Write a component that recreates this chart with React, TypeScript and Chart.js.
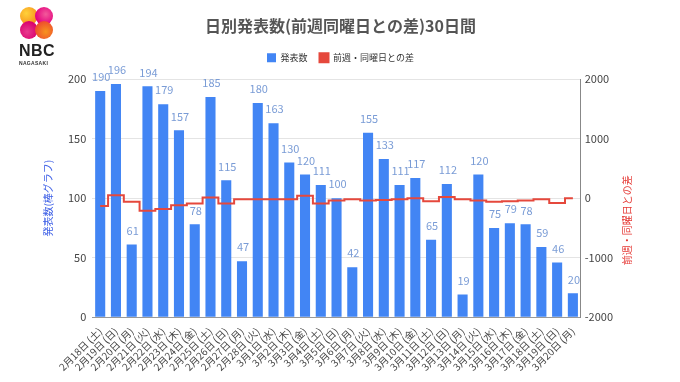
import React, { useEffect, useRef } from "react";
import { Chart, registerables } from "chart.js";

Chart.register(...registerables);

const labels = [
  "2月18日 (土)", "2月19日 (日)", "2月20日 (月)", "2月21日 (火)", "2月22日 (水)",
  "2月23日 (木)", "2月24日 (金)", "2月25日 (土)", "2月26日 (日)", "2月27日 (月)",
  "2月28日 (火)", "3月1日 (水)", "3月2日 (木)", "3月3日 (金)", "3月4日 (土)",
  "3月5日 (日)", "3月6日 (月)", "3月7日 (火)", "3月8日 (水)", "3月9日 (木)",
  "3月10日 (金)", "3月11日 (土)", "3月12日 (日)", "3月13日 (月)", "3月14日 (火)",
  "3月15日 (水)", "3月16日 (木)", "3月17日 (金)", "3月18日 (土)", "3月19日 (日)",
  "3月20日 (月)",
];

const counts = [
  190, 196, 61, 194, 179, 157, 78, 185, 115, 47, 180, 163, 130, 120, 111, 100,
  42, 155, 133, 111, 117, 65, 112, 19, 120, 75, 79, 78, 59, 46, 20,
];

const diffs = [
  -130, 50, -60, -210, -180, -120, -90, 10, -90, -20, -20, -20, -20, 40, -90,
  -40, -20, -40, -30, -20, 0, -50, 20, -20, -40, -60, -50, -40, -20, -80, 0,
];

const leftTicks = [0, 50, 100, 150, 200];
const rightTicks = [-2000, -1000, 0, 1000, 2000];
const rightTitle = "前週・同曜日との差";

const FONT = "'Noto Sans CJK JP', Roboto, 'Noto Sans', sans-serif";

const valueLabels = {
  id: "valueLabels",
  afterDatasetsDraw(chart: any) {
    const meta = chart.getDatasetMeta(0);
    const ctx = chart.ctx;
    ctx.save();
    ctx.font = `11px ${FONT}`;
    ctx.fillStyle = "#7a9cd6";
    ctx.textAlign = "center";
    ctx.textBaseline = "middle";
    meta.data.forEach((el: any, i: number) => {
      ctx.fillText(String(counts[i]), el.x + 1, el.y - 14);
    });
    ctx.restore();
  },
};

const rightTitlePlugin = {
  id: "rightTitle",
  afterDraw(chart: any) {
    const ctx = chart.ctx;
    const scale = chart.scales.y1;
    const x = scale.right + 10;
    const y = (chart.chartArea.top + chart.chartArea.bottom) / 2 + 22;
    ctx.save();
    ctx.translate(x, y);
    ctx.rotate(-Math.PI / 2);
    ctx.font = `10px ${FONT}`;
    ctx.fillStyle = "#e53935";
    ctx.textAlign = "center";
    ctx.textBaseline = "middle";
    ctx.fillText(rightTitle, 0, 0);
    ctx.restore();
  },
};

const legendMargin = {
  id: "legendMargin",
  beforeInit(chart: any) {
    const orig = chart.legend.fit;
    chart.legend.fit = function () {
      orig.bind(this)();
      this.height += 7;
    };
  },
  afterLayout(chart: any) {
    const shift = 11;
    if (chart.legend) {
      chart.legend.left += shift;
      chart.legend.right += shift;
      if (chart.legend.legendHitBoxes) {
        chart.legend.legendHitBoxes.forEach((b: any) => (b.left += shift));
      }
    }
    if (chart.titleBlock) {
      chart.titleBlock.left += shift;
      chart.titleBlock.right += shift;
    }
  },
};

export default function App() {
  const ref = useRef<HTMLCanvasElement>(null);

  useEffect(() => {
    document.body.style.margin = "0";
    const chart = new Chart(ref.current as HTMLCanvasElement, {
      type: "bar",
      data: {
        labels,
        datasets: [
          {
            type: "bar",
            label: "発表数",
            data: counts,
            yAxisID: "y",
            backgroundColor: "#4285f4",
            barPercentage: 0.64,
            categoryPercentage: 1,
            order: 1,
          } as any,
          {
            type: "line",
            label: rightTitle,
            data: diffs,
            yAxisID: "y1",
            borderColor: "#e5483c",
            backgroundColor: "#e5483c",
            borderWidth: 2,
            pointRadius: 0,
            stepped: "middle",
            order: 0,
          } as any,
        ],
      },
      options: {
        responsive: false,
        animation: false,
        layout: { padding: { left: 42, right: 63, top: 12, bottom: 9 } },
        plugins: {
          title: {
            display: true,
            text: "日別発表数(前週同曜日との差)30日間",
            color: "#555",
            font: { family: FONT, size: 16, weight: "bold" },
            padding: { top: 4, bottom: 6 },
          },
          legend: {
            display: true,
            labels: {
              boxWidth: 9,
              boxHeight: 9,
              color: "#333",
              font: { family: FONT, size: 9 },
              padding: 12,
              sort: (a: any, b: any) => a.datasetIndex - b.datasetIndex,
            },
          },
          tooltip: { enabled: false },
        },
        scales: {
          x: {
            grid: { display: false },
            border: { color: "#999" },
            ticks: {
              maxRotation: 45,
              minRotation: 45,
              autoSkip: false,
              color: "#444",
              font: { family: FONT, size: 10 },
              padding: 0,
            },
          },
          y: {
            position: "left",
            min: 0,
            max: 200,
            afterBuildTicks: (axis: any) => {
              axis.ticks = leftTicks.map((v) => ({ value: v }));
            },
            grid: { color: "#e4e4e4", drawTicks: false },
            border: { display: false },
            ticks: { color: "#444", font: { family: FONT, size: 11 }, padding: 6 },
            title: {
              display: true,
              text: "発表数(棒グラフ)",
              color: "#3d5fe6",
              font: { family: FONT, size: 10 },
              padding: { top: 0, bottom: 8 },
            },
          },
          y1: {
            position: "right",
            min: -2000,
            max: 2000,
            afterBuildTicks: (axis: any) => {
              axis.ticks = rightTicks.map((v) => ({ value: v }));
            },
            grid: { drawOnChartArea: false, drawTicks: false },
            border: { display: true, color: "#888" },
            ticks: {
              color: "#444",
              font: { family: FONT, size: 11 },
              padding: 4,
              callback: (v: any) => String(v),
            },
          },
        },
      } as any,
      plugins: [valueLabels, legendMargin, rightTitlePlugin],
    });
    return () => chart.destroy();
  }, []);

  const circle = (left: number, top: number, bg: string) => (
    <div
      style={{
        position: "absolute",
        left,
        top,
        width: 18,
        height: 18,
        borderRadius: "50%",
        background: bg,
      }}
    />
  );

  return (
    <div style={{ position: "relative", width: 680, height: 382, background: "#fff" }}>
      <canvas ref={ref} width={680} height={382} />
      <div style={{ position: "absolute", left: 0, top: 0, width: 80, height: 70 }}>
        {circle(20, 7, "radial-gradient(circle at 35% 35%, #ffd23a, #f7941d 70%, #ef5a8c)")}
        {circle(35, 7, "radial-gradient(circle at 60% 40%, #f25a9a, #e4007f 70%)")}
        {circle(20, 21, "radial-gradient(circle at 40% 60%, #e83a8f, #d9006c 70%)")}
        {circle(35, 21, "radial-gradient(circle at 60% 60%, #f7941d, #ee4d2e 70%)")}
        <div
          style={{
            position: "absolute",
            left: 19,
            top: 42,
            font: "bold 16px 'Liberation Sans', Arial, sans-serif",
            color: "#222",
            letterSpacing: 0.5,
          }}
        >
          NBC
        </div>
        <div
          style={{
            position: "absolute",
            left: 19,
            top: 60,
            font: "bold 5px 'Liberation Sans', Arial, sans-serif",
            color: "#333",
            letterSpacing: 0.3,
          }}
        >
          NAGASAKI
        </div>
      </div>
    </div>
  );
}
